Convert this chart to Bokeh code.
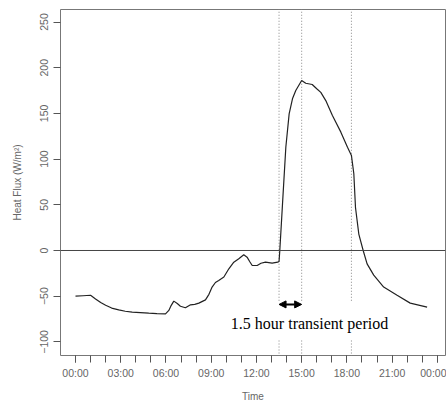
from bokeh.plotting import figure
from bokeh.models import FixedTicker, Span, Arrow, NormalHead, Range1d, ColumnDataSource, Label
from bokeh.embed import file_html
from bokeh.resources import INLINE

hours = [0.0, 0.5, 1.0, 1.33, 1.67, 2.0, 2.4, 2.87, 3.3, 3.76,
         4.3, 4.86, 5.4, 5.97, 6.19, 6.35, 6.52, 6.75, 6.96, 7.29,
         7.63, 7.91, 8.18, 8.62, 8.85, 9.06, 9.28, 9.5, 9.84, 10.17,
         10.5, 10.83, 11.16, 11.38, 11.55, 11.72, 12.05, 12.3, 12.6, 13.04,
         13.41, 13.5, 13.55, 13.73, 13.95, 14.17, 14.39, 14.61, 15.0, 15.27,
         15.7, 16.0, 16.27, 16.6, 17.04, 17.6, 18.04, 18.3, 18.46, 18.57,
         18.79, 19.08, 19.34, 19.78, 20.44, 21.33, 22.2, 23.32]
flux = [-50, -49.5, -49, -53, -57, -60, -63, -65, -66.5, -67.5,
        -68, -68.6, -69, -69.3, -65.6, -60, -55.4, -58, -61, -62.7,
        -59.4, -59, -57.6, -54, -48, -40, -35, -32.8, -29, -20,
        -12.8, -9, -4.7, -7.3, -12, -16.4, -16.4, -14, -12.8, -13.9,
        -12.8, -12, 0, 51, 113, 149.5, 166, 175, 186, 183,
        181.6, 177, 173, 164, 147.7, 129.5, 113, 104, 84, 47,
        18, 0, -14.6, -27, -40, -49, -57.6, -62]

x_ticks = [0, 3, 6, 9, 12, 15, 18, 21, 24]
x_tick_labels = ["00:00", "03:00", "06:00", "09:00", "12:00", "15:00", "18:00", "21:00", "00:00"]
x_minor = list(range(0, 25))
y_ticks = [-100, -50, 0, 50, 100, 150, 200, 250]

marker_hours = [13.5, 15.0, 18.3]
transient_start, transient_end = 13.5, 15.0
annotation = "1.5 hour transient period"

FONT = "Liberation Sans"
GREY = "#666666"

p = figure(width=446, height=405, output_backend="svg", toolbar_location=None,
           x_range=Range1d(-0.995, 24.54), y_range=Range1d(-114.9, 263.7),
           min_border_left=60, min_border_right=1, min_border_top=9, min_border_bottom=50)
p.background_fill_color = "white"
p.border_fill_color = "white"
p.outline_line_color = "#777777"
p.outline_line_width = 1
p.grid.visible = False

p.xaxis.ticker = FixedTicker(ticks=x_ticks, minor_ticks=x_minor)
p.xaxis.major_label_overrides = {t: l for t, l in zip(x_ticks, x_tick_labels)}
p.yaxis.ticker = FixedTicker(ticks=y_ticks)
p.yaxis.major_label_orientation = "vertical"

for ax in (p.xaxis[0], p.yaxis[0]):
    ax.axis_line_color = None
    ax.major_tick_line_color = "#555555"
    ax.minor_tick_line_color = "#555555"
    ax.major_tick_out = 7
    ax.major_tick_in = 0
    ax.minor_tick_out = 7
    ax.minor_tick_in = 0
    ax.major_label_text_font = FONT
    ax.major_label_text_font_size = "10.5px"
    ax.major_label_text_color = GREY
    ax.axis_label_text_font = FONT
    ax.axis_label_text_font_size = "10px"
    ax.axis_label_text_font_style = "normal"
    ax.axis_label_text_color = GREY
    ax.major_label_standoff = 5

p.yaxis.minor_tick_line_color = None
p.xaxis.major_label_standoff = 4
p.xaxis.axis_label = "Time"
p.yaxis.axis_label = "Heat Flux (W/m²)"
p.xaxis.axis_label_standoff = 9
p.yaxis.axis_label_standoff = 15

# zero line
p.add_layout(Span(location=0, dimension="width", line_color="#444444", line_width=1))

# dotted vertical markers, broken around the annotation
gap_top, gap_bottom = -55, -98.5
p.segment(x0=marker_hours, y0=[gap_top] * 3, x1=marker_hours, y1=[300] * 3,
          line_color="#888888", line_width=1, line_dash="1 2")
p.segment(x0=marker_hours, y0=[gap_bottom] * 3, x1=marker_hours, y1=[-200] * 3,
          line_color="#888888", line_width=1, line_dash="1 2")

# data line
src = ColumnDataSource(dict(x=hours, y=flux))
p.line("x", "y", source=src, line_color="#222222", line_width=1.2)

# double arrow
p.add_layout(Arrow(x_start=transient_start, y_start=-59, x_end=transient_end, y_end=-59,
                   line_color="black", line_width=2,
                   start=NormalHead(size=7, fill_color="black", line_color="black"),
                   end=NormalHead(size=7, fill_color="black", line_color="black")))

p.add_layout(Label(x=15.52, y=-79.5, text=annotation, text_font="Liberation Serif",
                   text_font_size="16px", text_color="black",
                   text_align="center", text_baseline="middle"))

open("out.html", "w").write(file_html(p, INLINE))
